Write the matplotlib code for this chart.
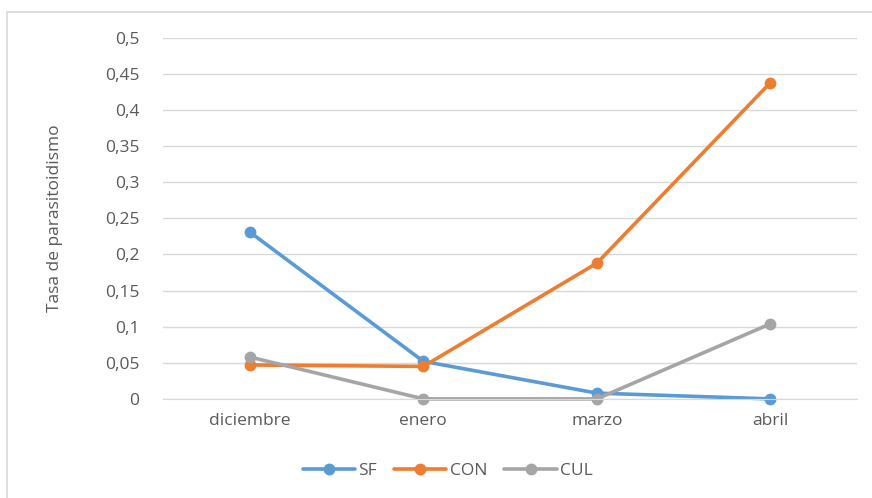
import matplotlib.pyplot as plt
import matplotlib.patches as patches
from matplotlib.ticker import FuncFormatter

meses = ['diciembre', 'enero', 'marzo', 'abril']
sf = [0.231, 0.052, 0.008, 0.0]
con = [0.047, 0.045, 0.188, 0.438]
cul = [0.058, 0.0, 0.0, 0.104]

plt.rcParams['font.family'] = ['Open Sans', 'DejaVu Sans']
gris_texto = '#595959'

fig = plt.figure(figsize=(8.72, 4.98), dpi=100)
ax = fig.add_axes([0.187, 0.199, 0.796, 0.725])

# marco exterior del grafico
fig.patches.append(patches.Rectangle((7 / 872, -0.05), 1.1, 1 - 12 / 498 + 0.05,
                                     transform=fig.transFigure, fill=False,
                                     edgecolor='#d9d9d9', linewidth=1.2))

x = range(len(meses))
series = [('SF', sf, '#5b9bd5'), ('CON', con, '#ed7d31'), ('CUL', cul, '#a5a5a5')]
for nombre, valores, color in series:
    ax.plot(x, valores, color=color, linewidth=2.6, marker='o', markersize=7.5,
            label=nombre, solid_capstyle='round', clip_on=False)

ax.set_xlim(-0.5, 3.5)
ax.set_ylim(0, 0.5)
ax.set_yticks([i * 0.05 for i in range(11)])
ax.yaxis.set_major_formatter(FuncFormatter(
    lambda v, p: '0' if abs(v) < 1e-9 else ('%g' % round(v, 2)).replace('.', ',')))
ax.set_xticks(list(x))
ax.set_xticklabels(meses)

ax.grid(axis='y', color='#d9d9d9', linewidth=1)
ax.set_axisbelow(True)
for lado in ['top', 'right', 'left']:
    ax.spines[lado].set_visible(False)
ax.spines['bottom'].set_color('#d9d9d9')
ax.tick_params(length=0, labelsize=12.5, colors=gris_texto)
ax.tick_params(axis='y', pad=17)
ax.tick_params(axis='x', pad=10)

ax.set_ylabel('Tasa de parasitoidismo', fontsize=12.5, color=gris_texto, labelpad=30)

ax.legend(loc='upper center', bbox_to_anchor=(0.41, -0.135), ncol=3, frameon=False,
          fontsize=12.5, labelcolor=gris_texto, handlelength=3, columnspacing=1.0,
          handletextpad=0.2)

plt.savefig('out.png', dpi=100)
